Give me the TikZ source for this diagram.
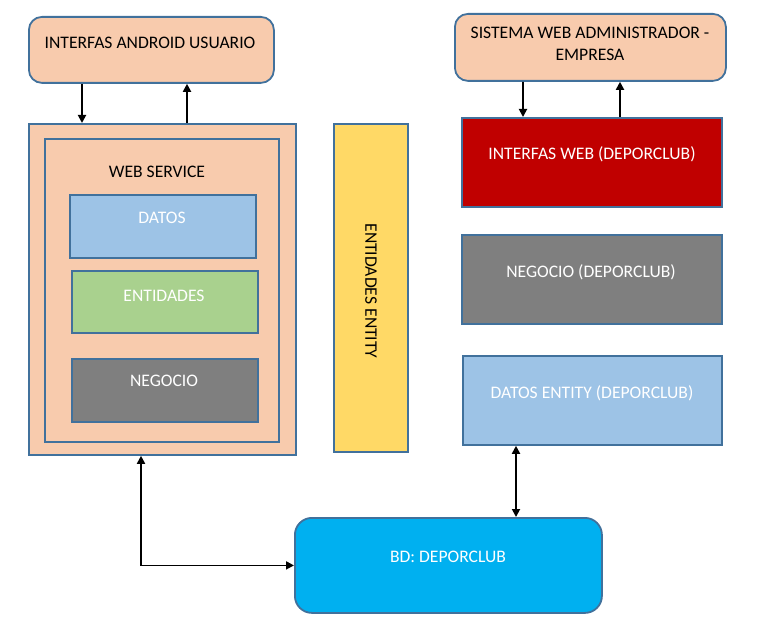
\documentclass[tikz,border=0pt]{standalone}
\usepackage{fontspec}
\setmainfont{Carlito}
\usetikzlibrary{arrows.meta}
\definecolor{peach}{HTML}{F8CBAD}
\definecolor{edge}{HTML}{41719C}
\definecolor{darkred}{HTML}{C00000}
\definecolor{midgray}{HTML}{7F7F7F}
\definecolor{lightblue}{HTML}{9DC3E6}
\definecolor{lightgreen}{HTML}{A9D18E}
\definecolor{gold}{HTML}{FFD966}
\definecolor{skyblue}{HTML}{00B0F0}
\tikzset{
  box/.style={draw=edge, line width=1.8bp, inner sep=0pt, anchor=north west},
  rbox/.style={box, rounded corners=13bp},
  lbl/.style={inner sep=0pt, font=\fontsize{17.6bp}{22bp}\selectfont, align=center},
  wlbl/.style={lbl, text=white},
  arr/.style={line width=1.8bp, -{Triangle[length=8bp,width=8bp]}},
  darr/.style={line width=1.8bp, {Triangle[length=8bp,width=8bp]}-{Triangle[length=8bp,width=8bp]}}
}
\begin{document}
\begin{tikzpicture}[x=1bp,y=-1bp]
\useasboundingbox (0,0) rectangle (777,624);
% left side
\node[rbox, fill=peach, minimum width=245bp, minimum height=66bp] (and) at (28,16) {};
\node[lbl] (andt) at (150,43) {INTERFAS ANDROID USUARIO};
\node[box, fill=peach, minimum width=267bp, minimum height=331bp] (ws) at (28,123) {};
\node[box, fill=peach, minimum width=234bp, minimum height=303bp] (wsi) at (44,138) {};
\node[lbl] (wst) at (157,172) {WEB SERVICE};
\node[box, fill=lightblue, minimum width=186bp, minimum height=63bp] (dat) at (69,194) {};
\node[wlbl] (datt) at (162,218) {DATOS};
\node[box, fill=lightgreen, minimum width=186bp, minimum height=62bp] (ent) at (71,270) {};
\node[wlbl] (entt) at (164,296) {ENTIDADES};
\node[box, fill=midgray, minimum width=186bp, minimum height=63bp] (neg) at (71,358) {};
\node[wlbl] (negt) at (164,381) {NEGOCIO};
% middle
\node[box, fill=gold, minimum width=74bp, minimum height=328bp] (ee) at (333,123) {};
\node[lbl, rotate=-90] (eet) at (371,291) {ENTIDADES ENTITY};
% right side
\node[rbox, fill=peach, minimum width=271bp, minimum height=67bp] (sys) at (454,13) {};
\node[lbl] (syst) at (590,44) {SISTEMA WEB ADMINISTRADOR -\\EMPRESA};
\node[box, fill=darkred, minimum width=260bp, minimum height=89bp] (iw) at (461,117) {};
\node[wlbl] (iwt) at (592,154) {INTERFAS WEB (DEPORCLUB)};
\node[box, fill=midgray, minimum width=260bp, minimum height=89bp] (nd) at (461,234) {};
\node[wlbl] (ndt) at (591,272) {NEGOCIO (DEPORCLUB)};
\node[box, fill=lightblue, minimum width=259bp, minimum height=89bp] (de) at (462,355) {};
\node[wlbl] (det) at (592,393) {DATOS ENTITY (DEPORCLUB)};
% database
\node[box, rounded corners=17bp, fill=skyblue, minimum width=307bp, minimum height=95bp] (bd) at (294,517) {};
\node[wlbl] (bdt) at (448,557) {BD: DEPORCLUB};
% connectors
\draw[arr] ([xshift=54bp]and.south west) -- ([xshift=54bp]ws.north west);
\draw[arr] ([xshift=159bp]ws.north west) -- ([xshift=159bp]and.south west);
\draw[arr] ([xshift=69bp]sys.south west) -- ([xshift=62bp]iw.north west);
\draw[arr] ([xshift=159bp]iw.north west) -- ([xshift=166bp]sys.south west);
\draw[darr] ([xshift=113bp]ws.south west) |- (bd.west);
\draw[darr] ([xshift=54bp]de.south west) -- ([xshift=222bp]bd.north west);
\end{tikzpicture}
\end{document}
